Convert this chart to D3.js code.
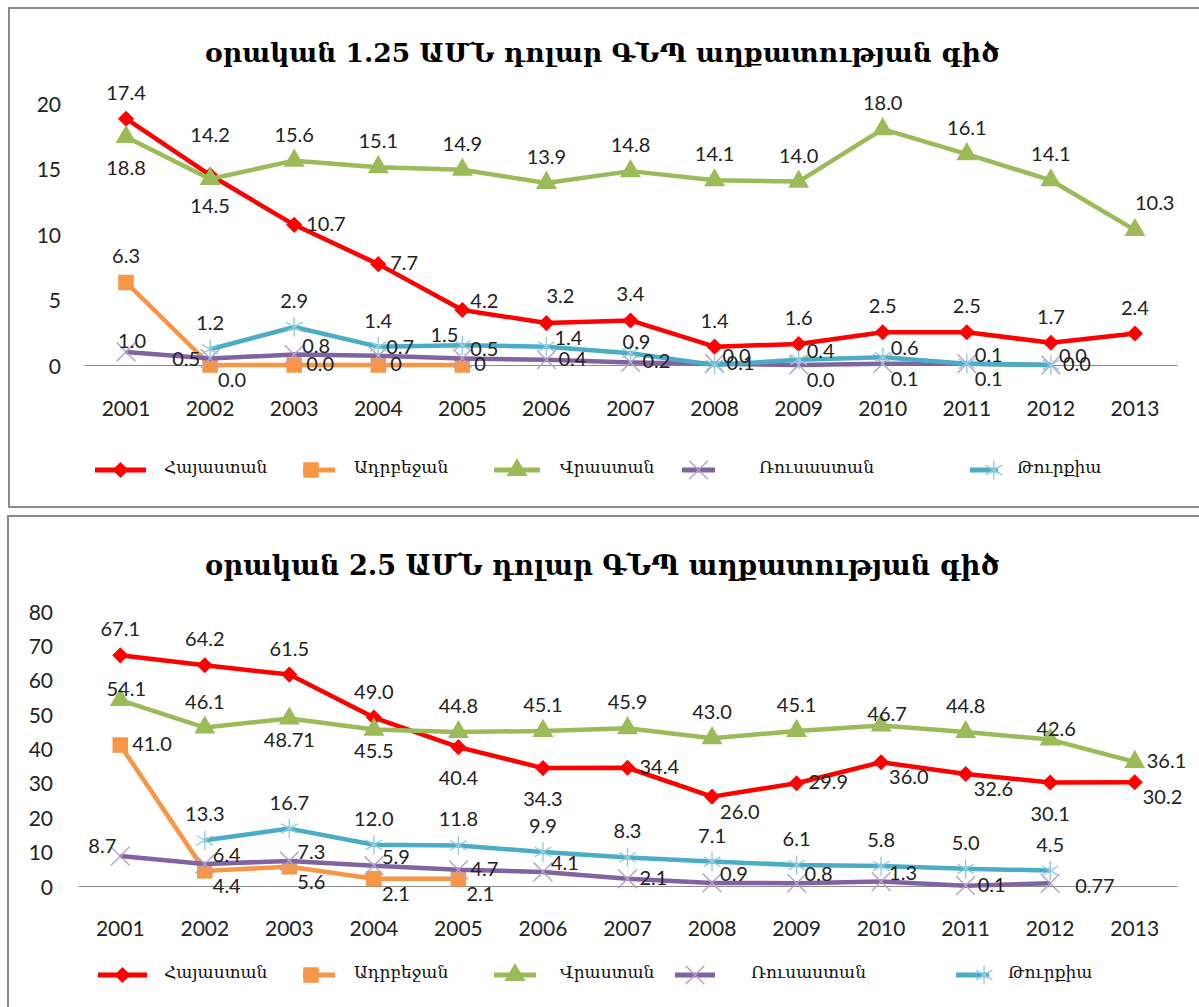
<!DOCTYPE html>
<meta charset="utf-8">
<style>
body { margin: 0; background: #fff; }
.tick-label { font-family: Lato, "DejaVu Sans", sans-serif; font-size: 21px; fill: #222; }
.data-label { font-family: Lato, "DejaVu Sans", sans-serif; font-size: 20px; fill: #222; }
.legend-text { font-family: "DejaVu Serif", serif; font-size: 17px; fill: #111; }
.title { font-family: "DejaVu Serif", serif; font-weight: bold; font-size: 28px; fill: #000; }
</style>
<body>
<svg width="1199" height="1007"></svg>
<script src="https://d3js.org/d3.v7.min.js"></script>
<script>

var years = ["2001", "2002", "2003", "2004", "2005", "2006", "2007", "2008", "2009", "2010", "2011", "2012", "2013"];
var countries = ["Հայաստան", "Ադրբեջան", "Վրաստան", "Ռուսաստան", "Թուրքիա"];

// chart 1 - 1.25 USD a day
var title1 = "օրական 1.25 ԱՄՆ դոլար ԳՆՊ աղքատության գիծ";
var yTicks1 = [0, 5, 10, 15, 20];
var armenia1 = [18.8, 14.5, 10.7, 7.7, 4.2, 3.2, 3.4, 1.4, 1.6, 2.5, 2.5, 1.7, 2.4];
var armenia1Text = ["17.4", "14.5", "10.7", "7.7", "4.2", "3.2", "3.4", "1.4", "1.6", "2.5", "2.5", "1.7", "2.4"];
var azerbaijan1 = [6.3, 0, 0, 0, 0, null, null, null, null, null, null, null, null];
var azerbaijan1Text = ["6.3", "0.0", "0.0", "0", "0"];
var georgia1 = [17.4, 14.2, 15.6, 15.1, 14.9, 13.9, 14.8, 14.1, 14.0, 18.0, 16.1, 14.1, 10.3];
var georgia1Text = ["18.8", "14.2", "15.6", "15.1", "14.9", "13.9", "14.8", "14.1", "14.0", "18.0", "16.1", "14.1", "10.3"];
var russia1 = [1.0, 0.5, 0.8, 0.7, 0.5, 0.4, 0.2, 0.1, 0.0, 0.1, 0.1, 0.0, null];
var russia1Text = ["1.0", "0.5", "0.8", "0.7", "0.5", "0.4", "0.2", "0.1", "0.0", "0.1", "0.1", "0.0"];
var turkey1 = [null, 1.2, 2.9, 1.4, 1.5, 1.4, 0.9, 0.0, 0.4, 0.6, 0.1, 0.0, null];
var turkey1Text = [null, "1.2", "2.9", "1.4", "1.5", "1.4", "0.9", "0.0", "0.4", "0.6", "0.1", "0.0"];

// chart 2 - 2.5 USD a day
var title2 = "օրական 2.5 ԱՄՆ դոլար ԳՆՊ աղքատության գիծ";
var yTicks2 = [0, 10, 20, 30, 40, 50, 60, 70, 80];
var armenia2 = [67.1, 64.2, 61.5, 49.0, 40.4, 34.3, 34.4, 26.0, 29.9, 36.0, 32.6, 30.1, 30.2];
var armenia2Text = ["67.1", "64.2", "61.5", "49.0", "40.4", "34.3", "34.4", "26.0", "29.9", "36.0", "32.6", "30.1", "30.2"];
var azerbaijan2 = [41.0, 4.4, 5.6, 2.1, 2.1, null, null, null, null, null, null, null, null];
var azerbaijan2Text = ["41.0", "4.4", "5.6", "2.1", "2.1"];
var georgia2 = [54.1, 46.1, 48.71, 45.5, 44.8, 45.1, 45.9, 43.0, 45.1, 46.7, 44.8, 42.6, 36.1];
var georgia2Text = ["54.1", "46.1", "48.71", "45.5", "44.8", "45.1", "45.9", "43.0", "45.1", "46.7", "44.8", "42.6", "36.1"];
var russia2 = [8.7, 6.4, 7.3, 5.9, 4.7, 4.1, 2.1, 0.9, 0.8, 1.3, 0.1, 0.77, null];
var russia2Text = ["8.7", "6.4", "7.3", "5.9", "4.7", "4.1", "2.1", "0.9", "0.8", "1.3", "0.1", "0.77"];
var turkey2 = [null, 13.3, 16.7, 12.0, 11.8, 9.9, 8.3, 7.1, 6.1, 5.8, 5.0, 4.5, null];
var turkey2Text = [null, "13.3", "16.7", "12.0", "11.8", "9.9", "8.3", "7.1", "6.1", "5.8", "5.0", "4.5"];

// where each data label sits relative to its marker (t=top, b=bottom, r=right ...)
var place = {
  armenia1:   ["t","b","r","r","rt","tr","t","t","t","t","t","t","t"],
  azerbaijan1:["t","rb","r","r","r"],
  georgia1:   ["b","T","t","t","t","t","t","t","t","t","t","t","tr"],
  russia1:    ["ts","l","rt","rt","rt","r","r","r","rb","rb","rb","r"],
  turkey1:    [null,"t","t","t","tl","rt","ts","rt","rt","rt","rt","rt"],
  armenia2:   ["t","t","t","t","b","b","r","rb","r","rb","rb","b","rb"],
  azerbaijan2:["r","rb","rb","rb","rb"],
  georgia2:   ["ts","t","bs","bs","t","t","t","t","t","ts","t","ts","r"],
  russia2:    ["tl","rt","rt","rt","r","rt","r","rt","rt","rt","r","rr"],
  turkey2:    [null,"t","t","t","t","t","t","t","t","t","t","t"]
};

var offsets = {
  t:  ["middle", 0, -27], T: ["middle", 0, -45], ts: ["middle", 6, -12],
  b:  ["middle", 0, 30],  bs: ["middle", 0, 20],
  r:  ["start", 12, -2],  rt: ["start", 8, -10], rb: ["start", 8, 14],
  rr: ["start", 25, 2],
  tr: ["start", 0, -28],  l: ["end", -10, 0],   tl: ["end", -4, -11]
};

var colors = ["#FF0000", "#F79646", "#9BBB59", "#8064A2", "#4BACC6"];
var markerKinds = ["diamond", "square", "triangle", "x", "asterisk"];

var svg = d3.select("svg");

function marker(sel, kind, color) {
  if (kind == "diamond") {
    sel.append("path").attr("d", d3.symbol(d3.symbolSquare, 130)()).attr("fill", color).attr("transform", "rotate(45)");
  } else if (kind == "square") {
    sel.append("path").attr("d", d3.symbol(d3.symbolSquare, 240)()).attr("fill", color);
  } else if (kind == "triangle") {
    sel.append("path").attr("d", d3.symbol(d3.symbolTriangle, 190)()).attr("fill", color);
  } else if (kind == "x") {
    sel.append("path").attr("d", d3.symbol(d3.symbolX, 230)()).attr("fill", "none").attr("stroke", "#B3A2C7").attr("stroke-width", 1.4);
  } else {
    sel.append("path").attr("d", d3.symbol(d3.symbolAsterisk, 260)()).attr("fill", "none").attr("stroke", "#93CDDD").attr("stroke-width", 1.4);
  }
}

function drawChart(cfg) {
  var g = svg.append("g");

  g.append("rect")
      .attr("x", cfg.frame[0]).attr("y", cfg.frame[1])
      .attr("width", cfg.frame[2]).attr("height", cfg.frame[3])
      .attr("fill", "none").attr("stroke", "#8a8a8a").attr("stroke-width", 2);

  var t = g.append("text").attr("class", "title")
      .attr("x", 602).attr("y", cfg.titleY)
      .attr("text-anchor", "middle").attr("dominant-baseline", "central")
      .text(cfg.title);
  // squeeze the title to the width it has in the picture
  var w = t.node().getComputedTextLength();
  t.style("font-size", (28 * 795 / w) + "px");

  var x = d3.scaleBand().domain(years).range(cfg.xRange);
  var y = d3.scaleLinear().domain(cfg.yDomain).range(cfg.yRange);
  var cx = function(i) { return x(years[i]) + x.bandwidth() / 2; };

  // y labels
  g.selectAll(".ytick").data(cfg.yTicks).enter().append("text")
      .attr("class", "tick-label")
      .attr("x", cfg.yLabelX).attr("y", function(d) { return y(d); })
      .attr("text-anchor", "end").attr("dominant-baseline", "central")
      .text(function(d) { return d; });

  // baseline and x labels
  var xAxis = g.append("g").attr("transform", "translate(0," + y(0) + ")")
      .call(d3.axisBottom(x).tickSize(0).tickPadding(0));
  xAxis.select(".domain").attr("stroke", "#8c8c8c").attr("stroke-width", 1);
  xAxis.selectAll("text").attr("class", "tick-label").attr("dy", null)
      .attr("y", cfg.xLabelDy).attr("dominant-baseline", "central");

  cfg.series.forEach(function(s, k) {
    var pts = s.values.map(function(v, i) { return { i: i, v: v }; });
    var line = d3.line()
        .defined(function(d) { return d.v != null; })
        .x(function(d) { return cx(d.i); })
        .y(function(d) { return y(d.v); });
    g.append("path").datum(pts)
        .attr("fill", "none").attr("stroke", colors[k]).attr("stroke-width", 4.5)
        .attr("stroke-linejoin", "round").attr("d", line);
    pts.filter(function(d) { return d.v != null; }).forEach(function(d) {
      var m = g.append("g").attr("transform", "translate(" + cx(d.i) + "," + y(d.v) + ")");
      marker(m, markerKinds[k], colors[k]);
    });
  });

  cfg.series.forEach(function(s) {
    s.text.forEach(function(txt, i) {
      if (txt == null) return;
      var o = offsets[s.place[i]];
      g.append("text").attr("class", "data-label")
          .attr("x", cx(i) + o[1]).attr("y", y(s.values[i]) + o[2])
          .attr("text-anchor", o[0]).attr("dominant-baseline", "central")
          .text(txt);
    });
  });

  // legend
  countries.forEach(function(name, k) {
    var L = cfg.legend[k];
    var ly = cfg.legendY;
    g.append("line").attr("x1", L[0]).attr("x2", L[1]).attr("y1", ly).attr("y2", ly)
        .attr("stroke", colors[k]).attr("stroke-width", 5);
    var m = g.append("g").attr("transform", "translate(" + (L[0] + (L[1] - L[0]) * L[3]) + "," + ly + ")");
    marker(m, markerKinds[k], colors[k]);
    g.append("text").attr("class", "legend-text")
        .attr("x", L[2]).attr("y", ly - 3).attr("dominant-baseline", "central")
        .text(name);
  });
}

drawChart({
  frame: [9, 8, 1200, 499],
  title: title1, titleY: 52,
  xRange: [84, 1177], yDomain: [0, 20], yRange: [365, 103],
  yTicks: yTicks1, yLabelX: 61, xLabelDy: 42,
  legendY: 470,
  legend: [[95, 146, 164, 0.5], [303, 335, 354, 0.25], [494, 540, 560, 0.5], [682, 715, 759, 0.5], [970, 998, 1017, 0.85]],
  series: [
    { values: armenia1, text: armenia1Text, place: place.armenia1 },
    { values: azerbaijan1, text: azerbaijan1Text, place: place.azerbaijan1 },
    { values: georgia1, text: georgia1Text, place: place.georgia1 },
    { values: russia1, text: russia1Text, place: place.russia1 },
    { values: turkey1, text: turkey1Text, place: place.turkey1 }
  ]
});

drawChart({
  frame: [8, 516, 1200, 500],
  title: title2, titleY: 565,
  xRange: [78, 1177], yDomain: [0, 80], yRange: [886, 611],
  yTicks: yTicks2, yLabelX: 53, xLabelDy: 41,
  legendY: 975,
  legend: [[98, 147, 164, 0.5], [303, 335, 354, 0.25], [494, 536, 560, 0.5], [675, 715, 751, 0.5], [956, 989, 1008, 0.85]],
  series: [
    { values: armenia2, text: armenia2Text, place: place.armenia2 },
    { values: azerbaijan2, text: azerbaijan2Text, place: place.azerbaijan2 },
    { values: georgia2, text: georgia2Text, place: place.georgia2 },
    { values: russia2, text: russia2Text, place: place.russia2 },
    { values: turkey2, text: turkey2Text, place: place.turkey2 }
  ]
});

</script>
</body>
